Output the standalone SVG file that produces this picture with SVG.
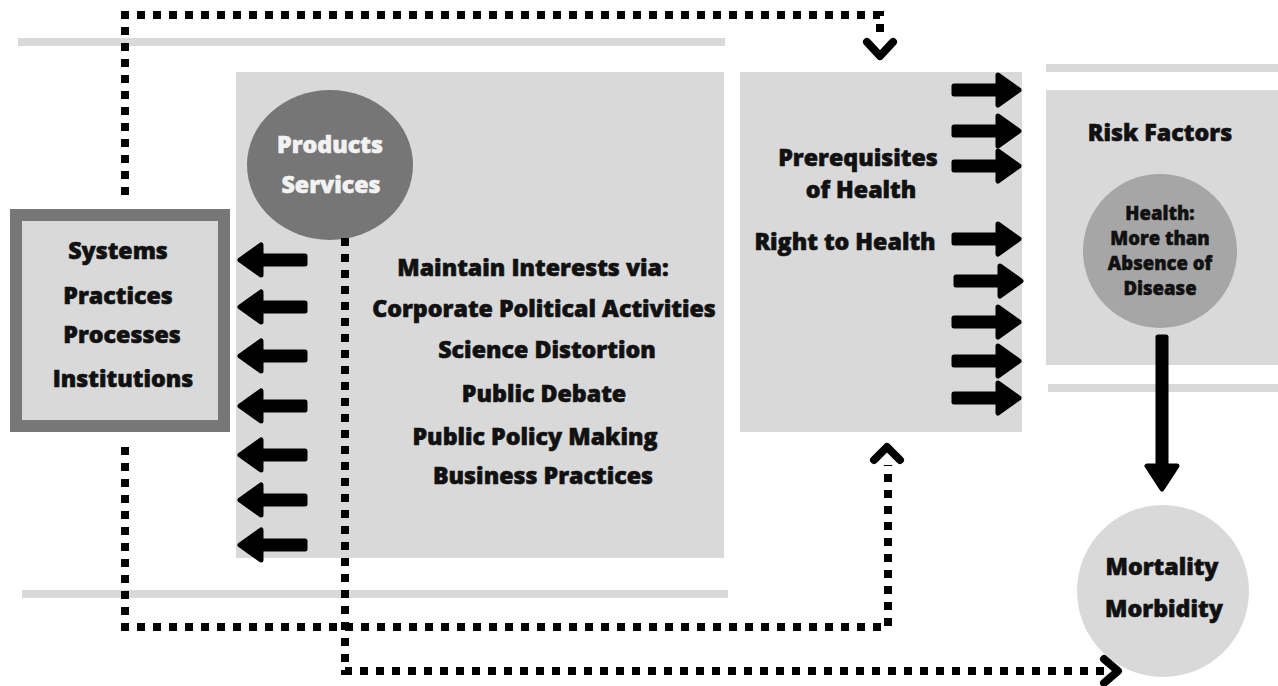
<svg xmlns="http://www.w3.org/2000/svg" width="1278" height="686" viewBox="0 0 1278 686">
<defs>
<style>
.bar{fill:#d9d9d9}
.box{fill:#d9d9d9}
.t{font-family:"Open Sans","Liberation Sans",sans-serif;font-weight:800;font-size:23.2px;fill:#111;stroke:#111;stroke-width:0.6;text-anchor:middle}
.ts{font-size:18.5px;stroke-width:0.5}
.w{fill:#f2f2f2;stroke:#f2f2f2}
.dot{fill:none;stroke:#000;stroke-width:8;stroke-dasharray:8 8}
.chev{fill:none;stroke:#000;stroke-width:8;stroke-linecap:round;stroke-linejoin:round}
.arr{fill:#000;stroke:#000;stroke-width:5;stroke-linejoin:round}
</style>
<path id="ar" class="arr" d="M0,-4 L44,-4 L44,-15 L65,0 L44,15 L44,4 L0,4 Z"/>
</defs>
<rect width="1278" height="686" fill="#fff"/>
<g id="bars">
<rect class="bar" x="18" y="38" width="707" height="8"/>
<rect class="bar" x="22" y="590" width="706" height="8"/>
<rect class="bar" x="1046" y="64" width="232" height="8"/>
<rect class="bar" x="1048" y="384" width="230" height="8"/>
</g>
<g id="interests">
<rect class="box" x="236" y="72" width="488" height="486"/>
<text class="t" x="533" y="276">Maintain Interests via:</text>
<text class="t" x="544" y="317">Corporate Political Activities</text>
<text class="t" x="547" y="358">Science Distortion</text>
<text class="t" x="544" y="402">Public Debate</text>
<text class="t" x="535" y="445">Public Policy Making</text>
<text class="t" x="543" y="484">Business Practices</text>
</g>
<g id="products">
<ellipse cx="330" cy="165" rx="83" ry="75" fill="#767676"/>
<text class="t w" x="330" y="153">Products</text>
<text class="t w" x="331" y="193">Services</text>
</g>
<g id="systems">
<rect x="16" y="215" width="208" height="211" fill="#d9d9d9" stroke="#777" stroke-width="12"/>
<text class="t" x="118" y="259">Systems</text>
<text class="t" x="118" y="304">Practices</text>
<text class="t" x="122" y="343">Processes</text>
<text class="t" x="123" y="387">Institutions</text>
</g>
<g id="prerequisites">
<rect class="box" x="740" y="72" width="282" height="360"/>
<text class="t" x="858" y="166">Prerequisites</text>
<text class="t" x="861" y="198">of Health</text>
<text class="t" x="845" y="250">Right to Health</text>
</g>
<g id="risk">
<rect class="box" x="1046" y="90" width="232" height="275"/>
<text class="t" x="1160" y="141">Risk Factors</text>
<circle cx="1160" cy="251" r="77" fill="#a6a6a6"/>
<text class="t ts" x="1160" y="220">Health:</text>
<text class="t ts" x="1160" y="245">More than</text>
<text class="t ts" x="1160" y="270">Absence of</text>
<text class="t ts" x="1160" y="295">Disease</text>
</g>
<g id="mortality">
<circle cx="1163" cy="591" r="86" fill="#d9d9d9"/>
<text class="t" x="1162" y="575">Mortality</text>
<text class="t" x="1164" y="617">Morbidity</text>
</g>
<g id="connectors">
<use href="#ar" transform="translate(305,260) rotate(180)"/>
<use href="#ar" transform="translate(305,307) rotate(180)"/>
<use href="#ar" transform="translate(305,356) rotate(180)"/>
<use href="#ar" transform="translate(305,406) rotate(180)"/>
<use href="#ar" transform="translate(305,455) rotate(180)"/>
<use href="#ar" transform="translate(305,500) rotate(180)"/>
<use href="#ar" transform="translate(305,545) rotate(180)"/>
<use href="#ar" transform="translate(954,90)"/>
<use href="#ar" transform="translate(954,131)"/>
<use href="#ar" transform="translate(954,166)"/>
<use href="#ar" transform="translate(954,239)"/>
<use href="#ar" transform="translate(956,281)"/>
<use href="#ar" transform="translate(954,322)"/>
<use href="#ar" transform="translate(954,361)"/>
<use href="#ar" transform="translate(954,398)"/>
<path class="arr" d="M1158,337 L1166,337 L1166,466 L1177,466 L1162,489 L1147,466 L1158,466 Z"/>
<path class="dot" d="M125,195 L125,15 L880,15 L880,38"/>
<path class="chev" d="M867,42 L880,56 L893,42"/>
<path class="dot" d="M125,447 L125,627 L888,627 L888,465"/>
<path class="chev" d="M874,460 L887,447 L900,460"/>
<path class="dot" d="M345,238 L345,671 L1106,671"/>
<path class="chev" d="M1104,659 L1118,671 L1104,683"/>
</g>
</svg>
